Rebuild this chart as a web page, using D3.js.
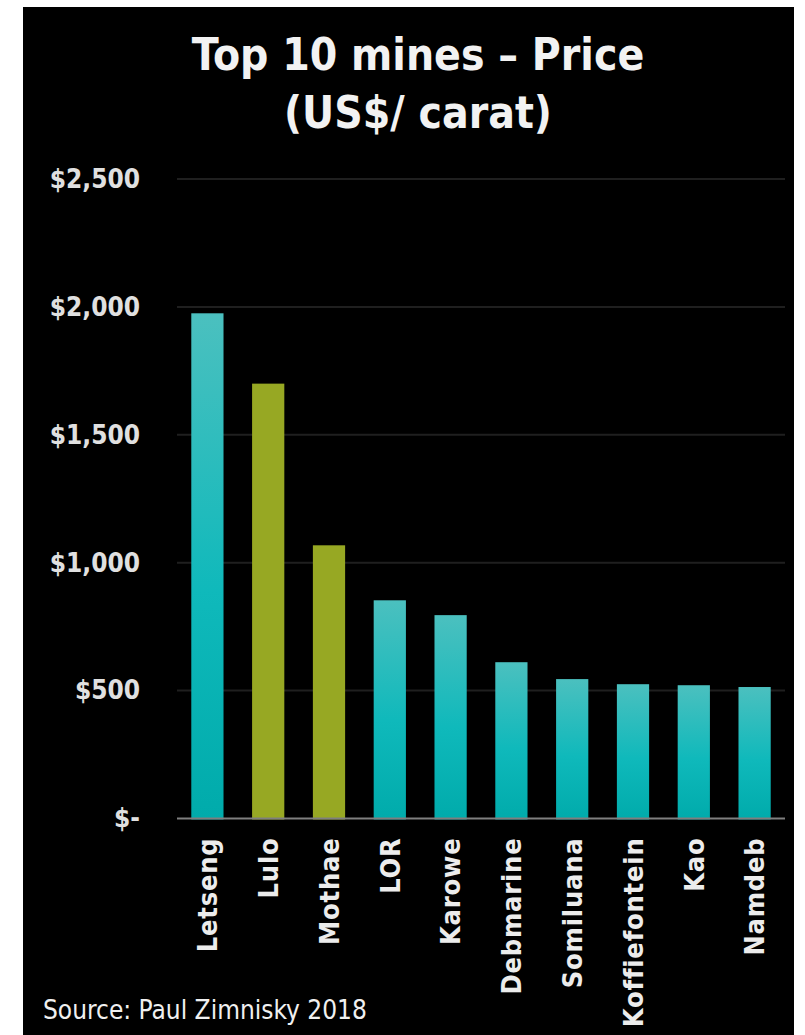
<!DOCTYPE html>
<html>
<head>
<meta charset="utf-8">
<title>Top 10 mines - Price</title>
<script src="https://d3js.org/d3.v7.min.js"></script>
<style>
  body { margin: 0; background: #fff; }
  svg { display: block; }
</style>
</head>
<body>
<div id="chart"></div>
<script>
// data
const mines = ["Letseng", "Lulo", "Mothae", "LOR", "Karowe", "Debmarine", "Somiluana", "Koffiefontein", "Kao", "Namdeb"];
const prices = [1975, 1700, 1068, 853, 795, 611, 545, 525, 521, 514];
const highlighted = ["Lulo", "Mothae"];
const yTicks = [0, 500, 1000, 1500, 2000, 2500];
const yTickLabels = ["$-", "$500", "$1,000", "$1,500", "$2,000", "$2,500"];

const W = 805, H = 1035;
const margin = {top: 179, right: 20, bottom: 216, left: 177};
const w = 785 - margin.left;
const h = 818.5 - margin.top;

const svg = d3.select("#chart").append("svg")
    .attr("width", W).attr("height", H);

// black panel
svg.append("rect")
    .attr("x", 23).attr("y", 7)
    .attr("width", 771).attr("height", H - 7)
    .attr("fill", "#000");

const defs = svg.append("defs");
const grad = defs.append("linearGradient")
    .attr("id", "teal").attr("x1", 0).attr("y1", 0).attr("x2", 0).attr("y2", 1)
    .attr("gradientUnits", "objectBoundingBox");
grad.append("stop").attr("offset", "0%").attr("stop-color", "#4bc0bf");
grad.append("stop").attr("offset", "55%").attr("stop-color", "#0fb9bb");
grad.append("stop").attr("offset", "100%").attr("stop-color", "#00abab");

const font = "'DejaVu Sans Condensed', 'DejaVu Sans', sans-serif";

// title
const title = svg.append("text")
    .attr("x", 418).attr("text-anchor", "middle")
    .attr("font-family", font).attr("font-weight", "bold")
    .attr("font-size", 44).attr("fill", "#f2f2f2");
title.append("tspan").attr("x", 418).attr("y", 70).text("Top 10 mines – Price");
title.append("tspan").attr("x", 418).attr("y", 128).text("(US$/ carat)");

const g = svg.append("g")
    .attr("transform", "translate(" + margin.left + "," + margin.top + ")");

const x = d3.scaleBand()
    .domain(mines)
    .range([0, w])
    .paddingInner(0.47)
    .paddingOuter(0.235);

const y = d3.scaleLinear()
    .domain([0, 2500])
    .range([h, 0]);

// gridlines
g.selectAll(".grid")
    .data(yTicks.filter(d => d > 0))
    .enter().append("line")
    .attr("x1", 0).attr("x2", w)
    .attr("y1", d => y(d)).attr("y2", d => y(d))
    .attr("stroke", "#1f1f1f").attr("stroke-width", 2);

// bars
g.selectAll(".bar")
    .data(mines)
    .enter().append("rect")
    .attr("x", d => x(d))
    .attr("y", (d, i) => y(prices[i]))
    .attr("width", x.bandwidth())
    .attr("height", (d, i) => y(0) - y(prices[i]) + 1)
    .attr("fill", d => highlighted.includes(d) ? "#97a823" : "url(#teal)");

// baseline
g.append("line")
    .attr("x1", 0).attr("x2", w)
    .attr("y1", y(0)).attr("y2", y(0))
    .attr("stroke", "#7f7f7f").attr("stroke-width", 2);

// y axis labels
const yAxis = d3.axisLeft(y)
    .tickValues(yTicks)
    .tickFormat((d, i) => yTickLabels[i])
    .tickSize(0)
    .tickPadding(37);
const ya = g.append("g").call(yAxis);
ya.select(".domain").remove();
ya.selectAll("text")
    .attr("font-family", font).attr("font-weight", "bold")
    .attr("font-size", 26).attr("fill", "#e0e0e0");

// x axis labels
const xAxis = d3.axisBottom(x).tickSize(0).tickPadding(0);
const xa = g.append("g")
    .attr("transform", "translate(0," + h + ")")
    .call(xAxis);
xa.select(".domain").remove();
xa.selectAll("text")
    .attr("font-family", font).attr("font-weight", "bold")
    .attr("font-size", 27).attr("fill", "#ececec")
    .attr("letter-spacing", 0.8)
    .attr("text-anchor", "end")
    .attr("transform", "rotate(-90)")
    .attr("x", -19).attr("y", 0).attr("dy", "0.36em");

// source
svg.append("text")
    .attr("x", 43).attr("y", 1019)
    .attr("font-family", font).attr("font-size", 26)
    .attr("fill", "#f0f0f0")
    .text("Source: Paul Zimnisky 2018");
</script>
</body>
</html>
